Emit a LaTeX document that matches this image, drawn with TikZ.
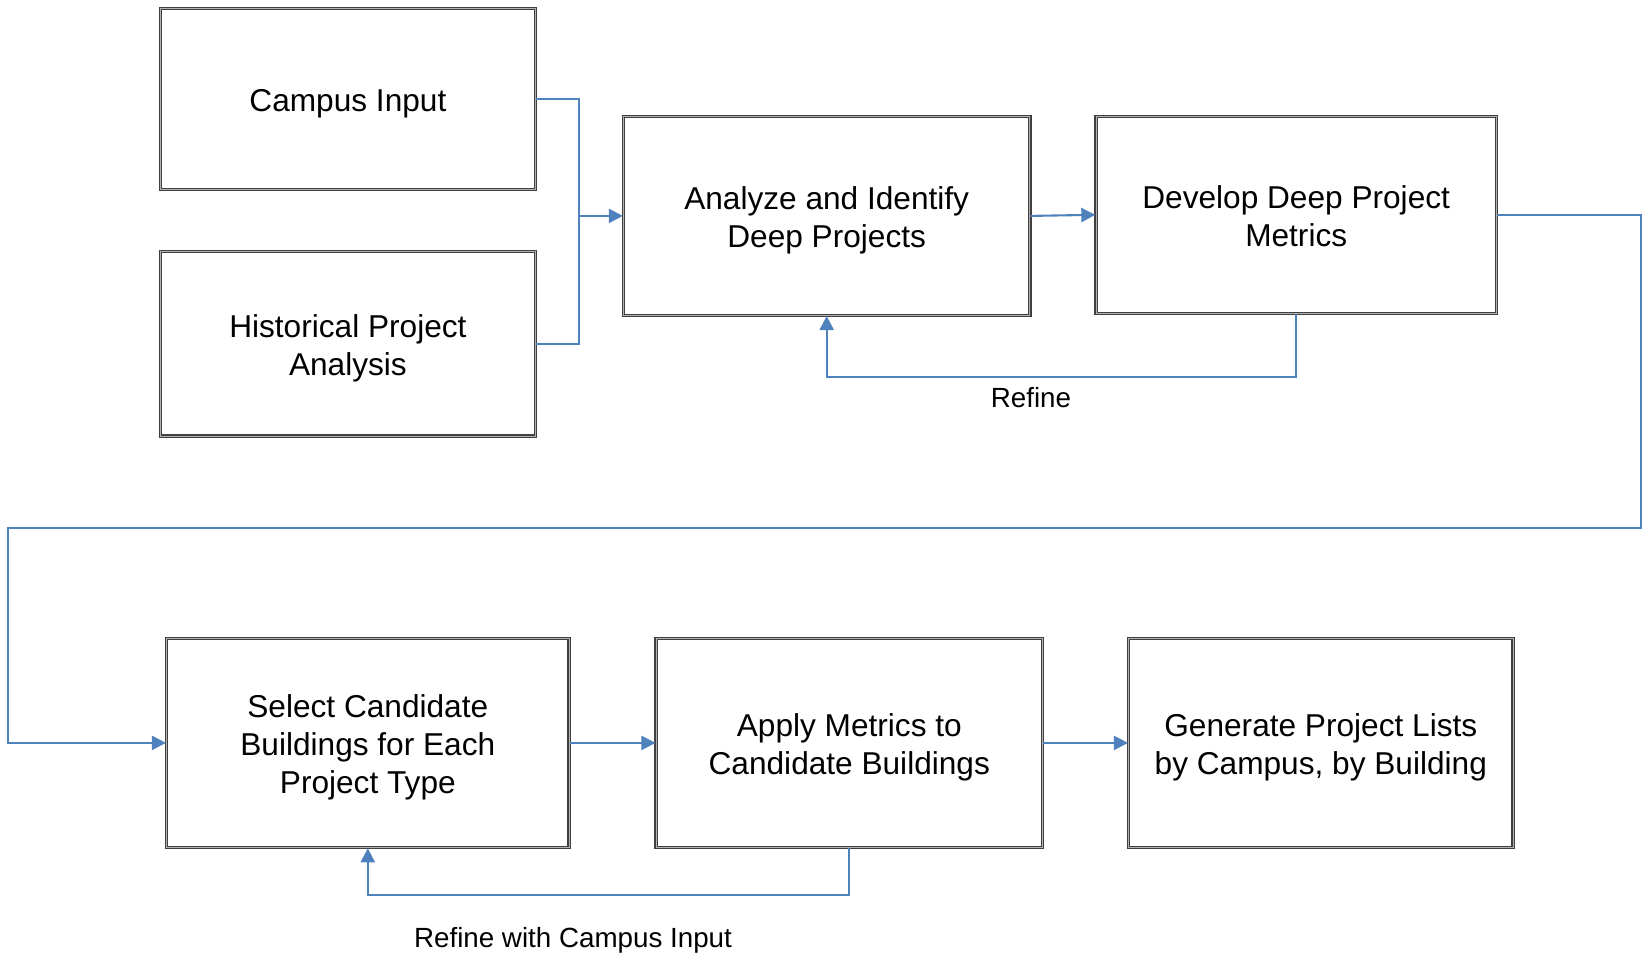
\documentclass[tikz,border=0pt]{standalone}
\usepackage{fontspec}
\setmainfont{Liberation Sans}
\usetikzlibrary{arrows.meta}
\definecolor{lineblue}{RGB}{79,129,189}
\begin{document}
\begin{tikzpicture}[x=0.02cm,y=-0.02cm,
  box/.style={draw=black!75,double=black!30,double distance=0.5pt,line width=0.7pt,fill=white,align=center,inner sep=0pt,font=\fontsize{18}{21.6}\selectfont,text height=#1},
  box/.default=18pt,
  flow/.style={draw=lineblue,line width=1.2pt},
  arr/.style={flow,-{Triangle[length=8pt,width=8pt]}},
  lbl/.style={font=\fontsize{15.8}{19}\selectfont}]
\useasboundingbox (0,0) rectangle (1643,954);
\node[box,minimum width=7.5cm,minimum height=3.62cm] (campus) at (347.9,99) {Campus Input};
\node[box=39.6pt,minimum width=7.5cm,minimum height=3.69cm] (hist) at (347.9,343.7) {Historical Project\\Analysis};
\node[box=39.6pt,minimum width=8.13cm,minimum height=3.98cm] (analyze) at (826.7,215.9) {Analyze and Identify\\Deep Projects};
\node[box=36.2pt,minimum width=8.01cm,minimum height=3.94cm] (develop) at (1296.2,214.8) {Develop Deep Project\\Metrics};
\node[box=61.2pt,minimum width=8.05cm,minimum height=4.19cm] (select) at (367.8,742.9) {Select Candidate\\Buildings for Each\\Project Type};
\node[box=39.6pt,minimum width=7.73cm,minimum height=4.19cm] (apply) at (849.3,742.9) {Apply Metrics to\\Candidate Buildings};
\node[box=39.6pt,minimum width=7.69cm,minimum height=4.19cm] (generate) at (1320.8,742.9) {Generate Project Lists\\by Campus, by Building};
\node[lbl] (refine) at (1031,398) {Refine};
\node[lbl] (refinecampus) at (573,940) {Refine with Campus Input};
% merge of the two inputs
\coordinate (merge) at (579.4,215.9);
\draw[flow] (campus.east) -| (merge) |- (hist.east);
\draw[arr] (merge) -- (analyze.west);
\draw[arr] (analyze.east) -- (develop.west);
% refine loop
\coordinate (r1) at (1296.2,377.2);
\draw[arr] (develop.south) -- (r1) -| (analyze.south);
% long return to second row
\coordinate (c1) at (1640.9,528.1);
\coordinate (c2) at (8.4,528.1);
\draw[arr] (develop.east) -| (c1) -- (c2) |- (select.west);
\draw[arr] (select.east) -- (apply.west);
\draw[arr] (apply.east) -- (generate.west);
\coordinate (r2) at (849.3,894.8);
\draw[arr] (apply.south) -- (r2) -| (select.south);
\end{tikzpicture}
\end{document}
